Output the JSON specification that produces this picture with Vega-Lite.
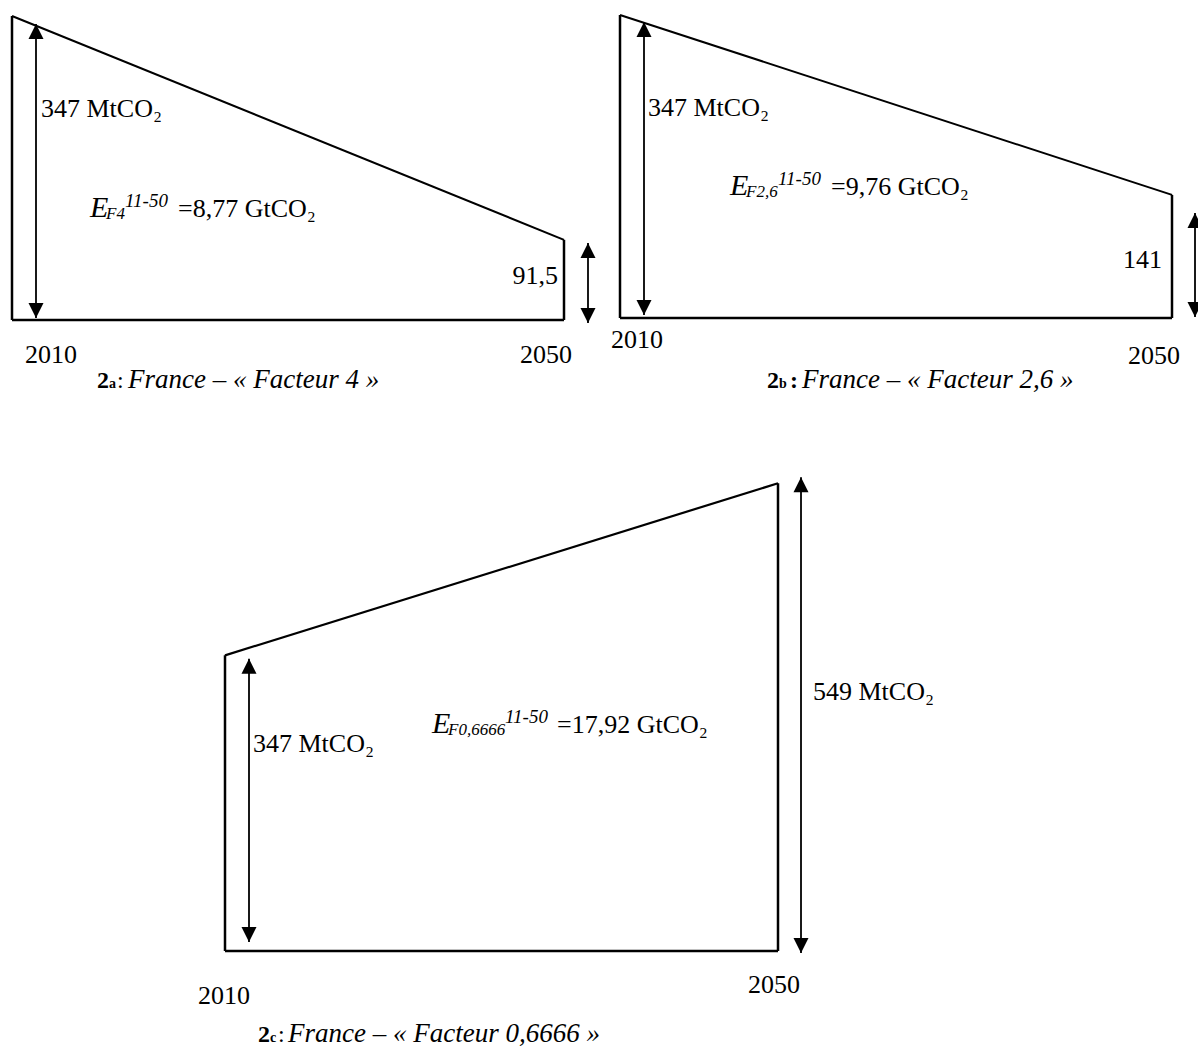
{
  "$schema": "https://vega.github.io/schema/vega-lite/v6.json",
  "padding": 0,
  "background": "white",
  "config": {"view": {"stroke": null}, "concat": {"spacing": 0}},
  "data": {"values": [
    {"panel":"a","kind":"traj","year":2010,"value":347},
    {"panel":"a","kind":"traj","year":2050,"value":91.5},
    {"panel":"a","kind":"base","year":2010,"year2":2050,"value":0},
    {"panel":"a","kind":"arrow","year":2011.739,"value":2.3,"value2":337.9},
    {"panel":"a","kind":"arrow","year":2051.739,"value":-3.4,"value2":87.9},
    {"panel":"a","kind":"label","role":"num","text":"347 MtCO₂","year":2012.101,"value":231.7},
    {"panel":"a","kind":"label","role":"E","text":"E","year":2015.652,"value":117.6},
    {"panel":"a","kind":"label","role":"sub","text":"F4","year":2016.812,"value":115.3},
    {"panel":"a","kind":"label","role":"sup","text":"11-50","year":2018.188,"value":129.0},
    {"panel":"a","kind":"label","role":"num","text":"=8,77 GtCO₂","year":2022.029,"value":117.6},
    {"panel":"a","kind":"label","role":"numr","text":"91,5","year":2049.565,"value":41.1},
    {"panel":"a","kind":"label","role":"year","text":"2010","year":2012.826,"value":-49.1},
    {"panel":"a","kind":"label","role":"year","text":"2050","year":2048.696,"value":-49.1},
    {"panel":"a","kind":"label","role":"capn","text":"2","year":2016.159,"value":-77.6},
    {"panel":"a","kind":"label","role":"capl","text":"a","year":2017.029,"value":-77.6},
    {"panel":"a","kind":"label","role":"capc","text":":","year":2017.609,"value":-77.6},
    {"panel":"a","kind":"label","role":"capi","text":"France – « Facteur 4 »","year":2018.406,"value":-77.6},

    {"panel":"b","kind":"traj","year":2010,"value":347},
    {"panel":"b","kind":"traj","year":2050,"value":141},
    {"panel":"b","kind":"base","year":2010,"year2":2050,"value":0},
    {"panel":"b","kind":"arrow","year":2011.739,"value":3.4,"value2":339.0},
    {"panel":"b","kind":"arrow","year":2051.667,"value":1.2,"value2":120.3},
    {"panel":"b","kind":"label","role":"num","text":"347 MtCO₂","year":2012.029,"value":231.3},
    {"panel":"b","kind":"label","role":"E","text":"E","year":2017.971,"value":140.9},
    {"panel":"b","kind":"label","role":"sub","text":"F2,6","year":2019.130,"value":138.6},
    {"panel":"b","kind":"label","role":"sup","text":"11-50","year":2021.449,"value":152.3},
    {"panel":"b","kind":"label","role":"num","text":"=9,76 GtCO₂","year":2025.290,"value":140.9},
    {"panel":"b","kind":"label","role":"numr","text":"141","year":2049.275,"value":57.3},
    {"panel":"b","kind":"label","role":"year","text":"2010","year":2011.232,"value":-34.4},
    {"panel":"b","kind":"label","role":"year","text":"2050","year":2048.696,"value":-52.7},
    {"panel":"b","kind":"label","role":"capn","text":"2","year":2020.652,"value":-80.2},
    {"panel":"b","kind":"label","role":"capl","text":"b","year":2021.522,"value":-80.2},
    {"panel":"b","kind":"label","role":"capn","text":":","year":2022.319,"value":-80.2},
    {"panel":"b","kind":"label","role":"capi","text":"France – « Facteur 2,6 »","year":2023.188,"value":-80.2},

    {"panel":"c","kind":"traj","year":2010,"value":347},
    {"panel":"c","kind":"traj","year":2050,"value":549},
    {"panel":"c","kind":"base","year":2010,"year2":2050,"value":0},
    {"panel":"c","kind":"arrow","year":2011.736,"value":10.6,"value2":343},
    {"panel":"c","kind":"arrow","year":2051.664,"value":-2.3,"value2":556},
    {"panel":"c","kind":"label","role":"num","text":"347 MtCO₂","year":2012.025,"value":233.6},
    {"panel":"c","kind":"label","role":"num","text":"549 MtCO₂","year":2052.532,"value":294.6},
    {"panel":"c","kind":"label","role":"E","text":"E","year":2024.973,"value":255.9},
    {"panel":"c","kind":"label","role":"sub","text":"F0,6666","year":2026.130,"value":253.5},
    {"panel":"c","kind":"label","role":"sup","text":"11-50","year":2030.253,"value":267.6},
    {"panel":"c","kind":"label","role":"num","text":"=17,92 GtCO₂","year":2034.015,"value":255.9},
    {"panel":"c","kind":"label","role":"year","text":"2010","year":2009.928,"value":-62.2},
    {"panel":"c","kind":"label","role":"year","text":"2050","year":2049.711,"value":-49.3},
    {"panel":"c","kind":"label","role":"capn","text":"2","year":2012.387,"value":-106.8},
    {"panel":"c","kind":"label","role":"capl","text":"c","year":2013.255,"value":-106.8},
    {"panel":"c","kind":"label","role":"capc","text":":","year":2013.834,"value":-106.8},
    {"panel":"c","kind":"label","role":"capi","text":"France – « Facteur 0,6666 »","year":2014.557,"value":-106.8}
  ]},
  "vconcat": [
    {
      "spacing": 0,
      "hconcat": [
        {
          "width": 600, "height": 400,
          "transform": [{"filter": "datum.panel === 'a'"}],
          "encoding": {
            "x": {"field": "year", "type": "quantitative", "scale": {"domain": [2009.1304, 2052.6087], "nice": false, "zero": false}, "axis": null},
            "y": {"field": "value", "type": "quantitative", "scale": {"domain": [-91.316, 365.263], "nice": false, "zero": false}, "axis": null}
          },
          "layer": [
            {"transform": [{"filter": "datum.kind === 'base'"}], "mark": {"type": "rule", "strokeWidth": 2.5, "color": "black"}, "encoding": {"x2": {"field": "year2"}}},
            {"transform": [{"filter": "datum.kind === 'traj'"}], "mark": {"type": "rule", "strokeWidth": 2.5, "color": "black"}, "encoding": {"y2": {"datum": 0}}},
            {"transform": [{"filter": "datum.kind === 'traj'"}], "mark": {"type": "line", "strokeWidth": 2, "color": "black"}, "encoding": {}},
            {"transform": [{"filter": "datum.kind === 'arrow'"}], "mark": {"type": "rule", "strokeWidth": 1.8, "color": "black"}, "encoding": {"y2": {"field": "value2"}}},
            {"transform": [{"filter": "datum.kind === 'arrow'"}], "mark": {"type": "point", "shape": "M0,-1L-1,1L1,1Z", "size": 225, "filled": true, "opacity": 1, "color": "black", "strokeWidth": 0, "yOffset": 7.5},
             "encoding": {"y": {"field": "value2", "type": "quantitative", "scale": {"domain": [-91.316, 365.263], "nice": false, "zero": false}, "axis": null}}},
            {"transform": [{"filter": "datum.kind === 'arrow'"}], "mark": {"type": "point", "shape": "M0,1L-1,-1L1,-1Z", "size": 225, "filled": true, "opacity": 1, "color": "black", "strokeWidth": 0, "yOffset": -7.5}, "encoding": {}},
            {"transform": [{"filter": "datum.role === 'num'"}], "mark": {"type": "text", "font": "Liberation Serif", "fontSize": 26, "align": "left", "baseline": "alphabetic", "color": "black"}, "encoding": {"text": {"field": "text"}}},
            {"transform": [{"filter": "datum.role === 'numr'"}], "mark": {"type": "text", "font": "Liberation Serif", "fontSize": 26, "align": "right", "baseline": "alphabetic", "color": "black"}, "encoding": {"text": {"field": "text"}}},
            {"transform": [{"filter": "datum.role === 'year'"}], "mark": {"type": "text", "font": "Liberation Serif", "fontSize": 26, "align": "center", "baseline": "alphabetic", "color": "black"}, "encoding": {"text": {"field": "text"}}},
            {"transform": [{"filter": "datum.role === 'E'"}], "mark": {"type": "text", "font": "Liberation Serif", "fontSize": 30, "fontStyle": "italic", "align": "left", "baseline": "alphabetic", "color": "black"}, "encoding": {"text": {"field": "text"}}},
            {"transform": [{"filter": "datum.role === 'sub'"}], "mark": {"type": "text", "font": "Liberation Serif", "fontSize": 17, "fontStyle": "italic", "align": "left", "baseline": "alphabetic", "color": "black"}, "encoding": {"text": {"field": "text"}}},
            {"transform": [{"filter": "datum.role === 'sup'"}], "mark": {"type": "text", "font": "Liberation Serif", "fontSize": 19, "fontStyle": "italic", "align": "left", "baseline": "alphabetic", "color": "black"}, "encoding": {"text": {"field": "text"}}},
            {"transform": [{"filter": "datum.role === 'capn'"}], "mark": {"type": "text", "font": "Liberation Serif", "fontSize": 24, "fontWeight": "bold", "align": "left", "baseline": "alphabetic", "color": "black"}, "encoding": {"text": {"field": "text"}}},
            {"transform": [{"filter": "datum.role === 'capl'"}], "mark": {"type": "text", "font": "Liberation Serif", "fontSize": 14, "fontWeight": "bold", "align": "left", "baseline": "alphabetic", "color": "black"}, "encoding": {"text": {"field": "text"}}},
            {"transform": [{"filter": "datum.role === 'capc'"}], "mark": {"type": "text", "font": "Liberation Serif", "fontSize": 24, "align": "left", "baseline": "alphabetic", "color": "black"}, "encoding": {"text": {"field": "text"}}},
            {"transform": [{"filter": "datum.role === 'capi'"}], "mark": {"type": "text", "font": "Liberation Serif", "fontSize": 27, "fontStyle": "italic", "align": "left", "baseline": "alphabetic", "color": "black"}, "encoding": {"text": {"field": "text"}}}
          ]
        },
        {
          "width": 598, "height": 400,
          "transform": [{"filter": "datum.panel === 'b'"}],
          "encoding": {
            "x": {"field": "year", "type": "quantitative", "scale": {"domain": [2008.5507, 2051.8841], "nice": false, "zero": false}, "axis": null},
            "y": {"field": "value", "type": "quantitative", "scale": {"domain": [-93.909, 364.178], "nice": false, "zero": false}, "axis": null}
          },
          "layer": [
            {"transform": [{"filter": "datum.kind === 'base'"}], "mark": {"type": "rule", "strokeWidth": 2.5, "color": "black"}, "encoding": {"x2": {"field": "year2"}}},
            {"transform": [{"filter": "datum.kind === 'traj'"}], "mark": {"type": "rule", "strokeWidth": 2.5, "color": "black"}, "encoding": {"y2": {"datum": 0}}},
            {"transform": [{"filter": "datum.kind === 'traj'"}], "mark": {"type": "line", "strokeWidth": 2, "color": "black"}, "encoding": {}},
            {"transform": [{"filter": "datum.kind === 'arrow'"}], "mark": {"type": "rule", "strokeWidth": 1.8, "color": "black"}, "encoding": {"y2": {"field": "value2"}}},
            {"transform": [{"filter": "datum.kind === 'arrow'"}], "mark": {"type": "point", "shape": "M0,-1L-1,1L1,1Z", "size": 225, "filled": true, "opacity": 1, "color": "black", "strokeWidth": 0, "yOffset": 7.5},
             "encoding": {"y": {"field": "value2", "type": "quantitative", "scale": {"domain": [-93.909, 364.178], "nice": false, "zero": false}, "axis": null}}},
            {"transform": [{"filter": "datum.kind === 'arrow'"}], "mark": {"type": "point", "shape": "M0,1L-1,-1L1,-1Z", "size": 225, "filled": true, "opacity": 1, "color": "black", "strokeWidth": 0, "yOffset": -7.5}, "encoding": {}},
            {"transform": [{"filter": "datum.role === 'num'"}], "mark": {"type": "text", "font": "Liberation Serif", "fontSize": 26, "align": "left", "baseline": "alphabetic", "color": "black"}, "encoding": {"text": {"field": "text"}}},
            {"transform": [{"filter": "datum.role === 'numr'"}], "mark": {"type": "text", "font": "Liberation Serif", "fontSize": 26, "align": "right", "baseline": "alphabetic", "color": "black"}, "encoding": {"text": {"field": "text"}}},
            {"transform": [{"filter": "datum.role === 'year'"}], "mark": {"type": "text", "font": "Liberation Serif", "fontSize": 26, "align": "center", "baseline": "alphabetic", "color": "black"}, "encoding": {"text": {"field": "text"}}},
            {"transform": [{"filter": "datum.role === 'E'"}], "mark": {"type": "text", "font": "Liberation Serif", "fontSize": 30, "fontStyle": "italic", "align": "left", "baseline": "alphabetic", "color": "black"}, "encoding": {"text": {"field": "text"}}},
            {"transform": [{"filter": "datum.role === 'sub'"}], "mark": {"type": "text", "font": "Liberation Serif", "fontSize": 17, "fontStyle": "italic", "align": "left", "baseline": "alphabetic", "color": "black"}, "encoding": {"text": {"field": "text"}}},
            {"transform": [{"filter": "datum.role === 'sup'"}], "mark": {"type": "text", "font": "Liberation Serif", "fontSize": 19, "fontStyle": "italic", "align": "left", "baseline": "alphabetic", "color": "black"}, "encoding": {"text": {"field": "text"}}},
            {"transform": [{"filter": "datum.role === 'capn'"}], "mark": {"type": "text", "font": "Liberation Serif", "fontSize": 24, "fontWeight": "bold", "align": "left", "baseline": "alphabetic", "color": "black"}, "encoding": {"text": {"field": "text"}}},
            {"transform": [{"filter": "datum.role === 'capl'"}], "mark": {"type": "text", "font": "Liberation Serif", "fontSize": 14, "fontWeight": "bold", "align": "left", "baseline": "alphabetic", "color": "black"}, "encoding": {"text": {"field": "text"}}},
            {"transform": [{"filter": "datum.role === 'capc'"}], "mark": {"type": "text", "font": "Liberation Serif", "fontSize": 24, "align": "left", "baseline": "alphabetic", "color": "black"}, "encoding": {"text": {"field": "text"}}},
            {"transform": [{"filter": "datum.role === 'capi'"}], "mark": {"type": "text", "font": "Liberation Serif", "fontSize": 27, "fontStyle": "italic", "align": "left", "baseline": "alphabetic", "color": "black"}, "encoding": {"text": {"field": "text"}}}
          ]
        }
      ]
    },
    {
      "width": 1198, "height": 654,
      "transform": [{"filter": "datum.panel === 'c'"}],
      "encoding": {
        "x": {"field": "year", "type": "quantitative", "scale": {"domain": [1993.7251, 2080.3797], "nice": false, "zero": false}, "axis": null},
        "y": {"field": "value", "type": "quantitative", "scale": {"domain": [-120.892, 646.714], "nice": false, "zero": false}, "axis": null}
      },
      "layer": [
        {"transform": [{"filter": "datum.kind === 'base'"}], "mark": {"type": "rule", "strokeWidth": 2.5, "color": "black"}, "encoding": {"x2": {"field": "year2"}}},
        {"transform": [{"filter": "datum.kind === 'traj'"}], "mark": {"type": "rule", "strokeWidth": 2.5, "color": "black"}, "encoding": {"y2": {"datum": 0}}},
        {"transform": [{"filter": "datum.kind === 'traj'"}], "mark": {"type": "line", "strokeWidth": 2.2, "color": "black"}, "encoding": {}},
        {"transform": [{"filter": "datum.kind === 'arrow'"}], "mark": {"type": "rule", "strokeWidth": 1.8, "color": "black"}, "encoding": {"y2": {"field": "value2"}}},
        {"transform": [{"filter": "datum.kind === 'arrow'"}], "mark": {"type": "point", "shape": "M0,-1L-1,1L1,1Z", "size": 225, "filled": true, "opacity": 1, "color": "black", "strokeWidth": 0, "yOffset": 7.5},
         "encoding": {"y": {"field": "value2", "type": "quantitative", "scale": {"domain": [-120.892, 646.714], "nice": false, "zero": false}, "axis": null}}},
        {"transform": [{"filter": "datum.kind === 'arrow'"}], "mark": {"type": "point", "shape": "M0,1L-1,-1L1,-1Z", "size": 225, "filled": true, "opacity": 1, "color": "black", "strokeWidth": 0, "yOffset": -7.5}, "encoding": {}},
        {"transform": [{"filter": "datum.role === 'num'"}], "mark": {"type": "text", "font": "Liberation Serif", "fontSize": 26, "align": "left", "baseline": "alphabetic", "color": "black"}, "encoding": {"text": {"field": "text"}}},
        {"transform": [{"filter": "datum.role === 'year'"}], "mark": {"type": "text", "font": "Liberation Serif", "fontSize": 26, "align": "center", "baseline": "alphabetic", "color": "black"}, "encoding": {"text": {"field": "text"}}},
        {"transform": [{"filter": "datum.role === 'E'"}], "mark": {"type": "text", "font": "Liberation Serif", "fontSize": 30, "fontStyle": "italic", "align": "left", "baseline": "alphabetic", "color": "black"}, "encoding": {"text": {"field": "text"}}},
        {"transform": [{"filter": "datum.role === 'sub'"}], "mark": {"type": "text", "font": "Liberation Serif", "fontSize": 17, "fontStyle": "italic", "align": "left", "baseline": "alphabetic", "color": "black"}, "encoding": {"text": {"field": "text"}}},
        {"transform": [{"filter": "datum.role === 'sup'"}], "mark": {"type": "text", "font": "Liberation Serif", "fontSize": 19, "fontStyle": "italic", "align": "left", "baseline": "alphabetic", "color": "black"}, "encoding": {"text": {"field": "text"}}},
        {"transform": [{"filter": "datum.role === 'capn'"}], "mark": {"type": "text", "font": "Liberation Serif", "fontSize": 24, "fontWeight": "bold", "align": "left", "baseline": "alphabetic", "color": "black"}, "encoding": {"text": {"field": "text"}}},
        {"transform": [{"filter": "datum.role === 'capl'"}], "mark": {"type": "text", "font": "Liberation Serif", "fontSize": 14, "fontWeight": "bold", "align": "left", "baseline": "alphabetic", "color": "black"}, "encoding": {"text": {"field": "text"}}},
        {"transform": [{"filter": "datum.role === 'capc'"}], "mark": {"type": "text", "font": "Liberation Serif", "fontSize": 24, "align": "left", "baseline": "alphabetic", "color": "black"}, "encoding": {"text": {"field": "text"}}},
        {"transform": [{"filter": "datum.role === 'capi'"}], "mark": {"type": "text", "font": "Liberation Serif", "fontSize": 27, "fontStyle": "italic", "align": "left", "baseline": "alphabetic", "color": "black"}, "encoding": {"text": {"field": "text"}}}
      ]
    }
  ],
  "spacing": 0
}
